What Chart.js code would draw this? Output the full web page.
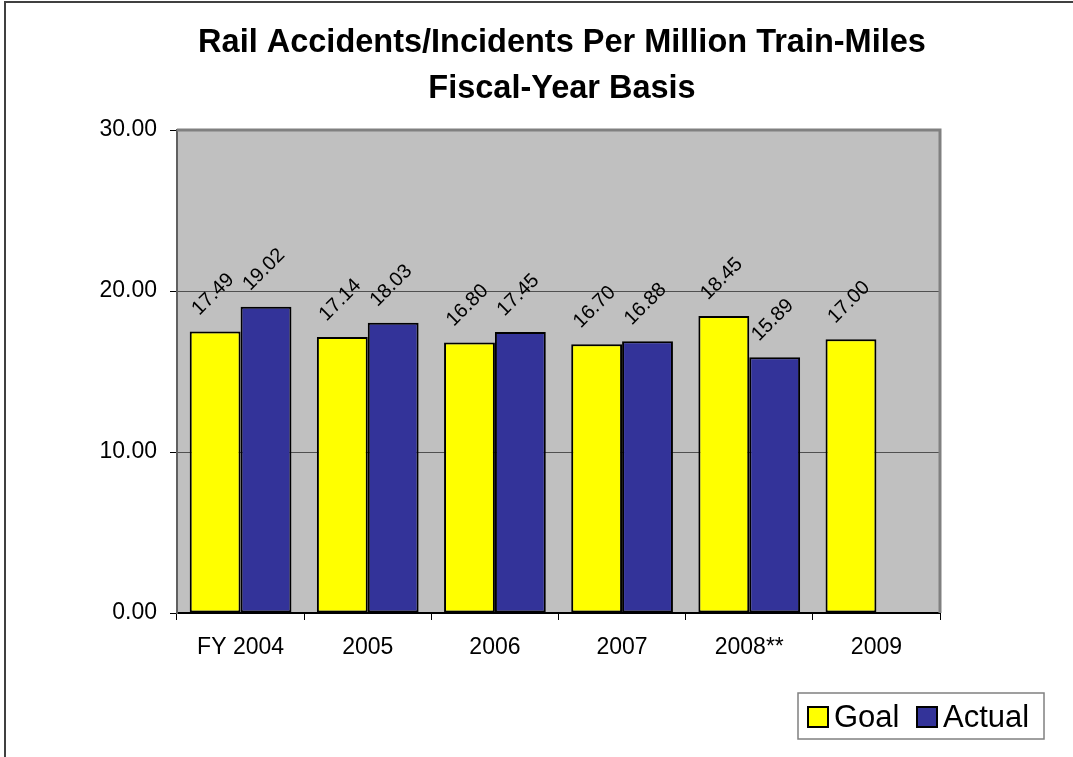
<!DOCTYPE html>
<html>
<head>
<meta charset="utf-8">
<script src="https://cdn.jsdelivr.net/npm/chart.js@4"></script>
<style>
  html, body { margin: 0; padding: 0; background: #fff; }
  #wrap { width: 1073px; height: 757px; }
</style>
</head>
<body>
<div id="wrap"><canvas id="grafico" width="1073" height="757"></canvas></div>
<script>
const categorias = ["FY 2004", "2005", "2006", "2007", "2008**", "2009"];
const metas = [17.49, 17.14, 16.80, 16.70, 18.45, 17.00];
const reales = [19.02, 18.03, 17.45, 16.88, 15.89, null];
const marcasY = [0, 10, 20, 30];
const titulo = ["Rail Accidents/Incidents Per Million Train-Miles", "Fiscal-Year Basis"];

const fuente = "'Liberation Sans', Arial, sans-serif";

// fondo gris, marco exterior, titulo y leyenda
const decorado = {
  id: "decorado",
  beforeDraw(chart) {
    const c = chart.ctx;
    const a = chart.chartArea;
    c.save();
    c.fillStyle = "#fff";
    c.fillRect(0, 0, chart.width, chart.height);
    c.fillStyle = "#C0C0C0";
    c.fillRect(a.left, a.top, a.right - a.left, a.bottom - a.top);
    c.restore();
  },
  afterDraw(chart) {
    const c = chart.ctx;
    const a = chart.chartArea;
    c.save();
    // marco del area del grafico
    c.strokeStyle = "#808080";
    c.lineWidth = 3;
    c.beginPath();
    c.moveTo(a.left, a.top);
    c.lineTo(a.right, a.top);
    c.lineTo(a.right, a.bottom);
    c.stroke();

    // marco exterior
    c.strokeStyle = "#404040";
    c.lineWidth = 2;
    c.beginPath();
    c.moveTo(5, chart.height);
    c.lineTo(5, 2);
    c.lineTo(chart.width, 2);
    c.stroke();

    // titulo
    c.fillStyle = "#000";
    c.font = "bold 32.5px " + fuente;
    c.textAlign = "center";
    c.textBaseline = "alphabetic";
    c.fillText(titulo[0], 562, 52);
    c.fillText(titulo[1], 562, 98);

    // leyenda
    c.fillStyle = "#fff";
    c.fillRect(798, 693, 246, 46);
    c.strokeStyle = "#808080";
    c.lineWidth = 1.5;
    c.strokeRect(798, 693, 246, 46);
    c.font = "31px " + fuente;
    c.textAlign = "left";
    c.textBaseline = "middle";
    const items = [
      { txt: "Goal", col: "#FFFF00", x: 808 },
      { txt: "Actual", col: "#333399", x: 917 }
    ];
    items.forEach(it => {
      c.fillStyle = it.col;
      c.fillRect(it.x, 707, 20, 20);
      c.strokeStyle = "#000";
      c.lineWidth = 2;
      c.strokeRect(it.x, 707, 20, 20);
      c.fillStyle = "#000";
      c.fillText(it.txt, it.x + 26, 718);
    });
    c.restore();
  }
};

// etiquetas de valor giradas 45 grados
const etiquetas = {
  id: "etiquetas",
  afterDatasetsDraw(chart) {
    const c = chart.ctx;
    c.save();
    c.font = "20px " + fuente;
    c.fillStyle = "#000";
    c.textAlign = "center";
    c.textBaseline = "middle";
    chart.data.datasets.forEach((ds, i) => {
      chart.getDatasetMeta(i).data.forEach((barra, j) => {
        const v = ds.data[j];
        if (v === null || v === undefined) return;
        c.save();
        c.translate(barra.x - 2, barra.y - 37);
        c.rotate(-Math.PI / 4);
        c.fillText(v.toFixed(2), 0, 0);
        c.restore();
      });
    });
    c.restore();
  }
};

const ctx = document.getElementById("grafico").getContext("2d");
const grafico = new Chart(ctx, {
  type: "bar",
  data: {
    labels: categorias,
    datasets: [
      {
        label: "Goal",
        data: metas,
        backgroundColor: "#FFFF00",
        borderColor: "#000",
        borderWidth: 2,
        borderSkipped: false,
        categoryPercentage: 0.8,
        barPercentage: 1.0
      },
      {
        label: "Actual",
        data: reales,
        backgroundColor: "#333399",
        borderColor: "#000",
        borderWidth: 2,
        borderSkipped: false,
        categoryPercentage: 0.8,
        barPercentage: 1.0
      }
    ]
  },
  options: {
    responsive: false,
    animation: false,
    layout: { padding: { top: 130, right: 133, bottom: 84, left: 0 } },
    plugins: {
      legend: { display: false },
      title: { display: false },
      tooltip: { enabled: false }
    },
    scales: {
      x: {
        offset: true,
        afterFit(scale) { scale.height = 60; },
        grid: {
          offset: true,
          drawOnChartArea: false,
          drawTicks: true,
          tickLength: 7,
          color: "#000",
          lineWidth: 1
        },
        border: { display: true, color: "#000", width: 2 },
        ticks: {
          color: "#000",
          font: { family: fuente, size: 23 },
          padding: 14
        }
      },
      y: {
        min: 0,
        max: 30,
        afterFit(scale) { scale.width = 177; },
        afterBuildTicks(scale) { scale.ticks = marcasY.map(v => ({ value: v })); },
        grid: {
          color: ctx => (ctx.tick && ctx.tick.value === 30 ? "#808080" : "#505050"),
          lineWidth: 1,
          tickLength: 7,
          tickColor: "#000"
        },
        border: { display: true, color: "#606060", width: 2 },
        ticks: {
          color: "#000",
          font: { family: fuente, size: 23 },
          padding: 13,
          callback: v => Number(v).toFixed(2)
        }
      }
    }
  },
  plugins: [decorado, etiquetas]
});
</script>
</body>
</html>
